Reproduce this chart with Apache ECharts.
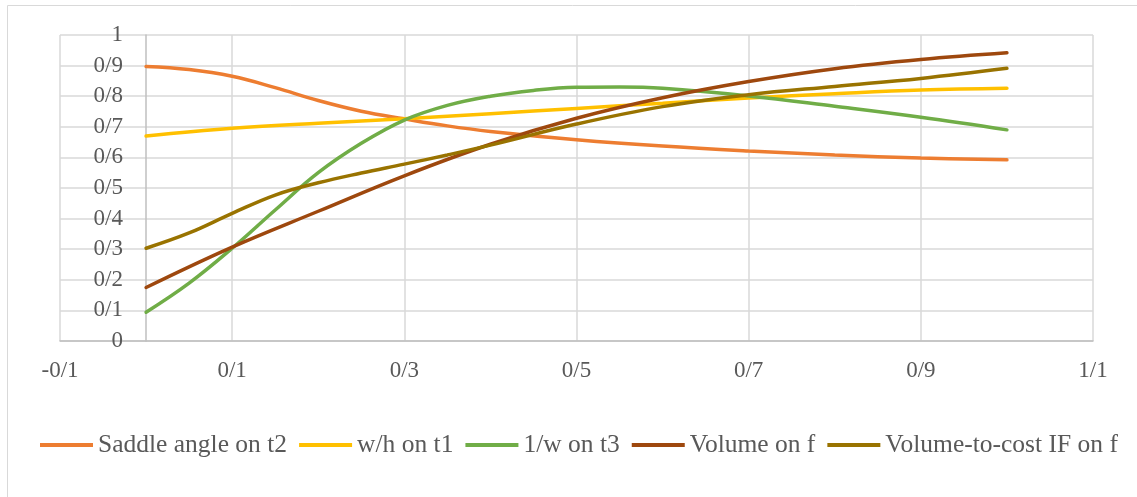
<!DOCTYPE html>
<html>
<head>
<meta charset="utf-8">
<script src="https://cdn.jsdelivr.net/npm/echarts@6/dist/echarts.min.js"></script>
<style>
html,body{margin:0;padding:0;background:#fff;}
#chart{width:1137px;height:497px;}
</style>
</head>
<body>
<div id="chart"></div>
<script>
// ---- data ----
const seriesNames = ['Saddle angle on t2', 'w/h on t1', '1/w on t3', 'Volume on f', 'Volume-to-cost IF on f'];
const saddleX     = [0, 0.05, 0.1, 0.15, 0.2, 0.25, 0.3, 0.35, 0.4, 0.5, 0.6, 0.7, 0.8, 0.9, 1.0];
const saddleAngle = [0.897, 0.887, 0.865, 0.828, 0.786, 0.751, 0.726, 0.703, 0.685, 0.658, 0.637, 0.621, 0.608, 0.598, 0.592];
const whX         = [0, 0.1, 0.2, 0.3, 0.4, 0.5, 0.6, 0.7, 0.8, 0.9, 1.0];
const whOnT1      = [0.670, 0.695, 0.712, 0.726, 0.743, 0.760, 0.777, 0.794, 0.808, 0.820, 0.826];
const oneOverWX   = [0, 0.05, 0.1, 0.15, 0.2, 0.25, 0.3, 0.35, 0.4, 0.45, 0.5, 0.55, 0.6, 0.7, 0.8, 0.9, 1.0];
const oneOverW    = [0.094, 0.189, 0.303, 0.428, 0.550, 0.646, 0.722, 0.770, 0.800, 0.819, 0.829, 0.830, 0.826, 0.801, 0.767, 0.731, 0.690];
const volumeX     = [0, 0.1, 0.2, 0.3, 0.4, 0.5, 0.6, 0.7, 0.8, 0.9, 1.0];
const volume      = [0.175, 0.307, 0.424, 0.540, 0.643, 0.728, 0.795, 0.848, 0.890, 0.920, 0.942];
const volToCostX  = [0, 0.05, 0.1, 0.15, 0.2, 0.25, 0.3, 0.35, 0.4, 0.5, 0.6, 0.7, 0.8, 0.9, 1.0];
const volToCost   = [0.303, 0.353, 0.417, 0.477, 0.517, 0.549, 0.578, 0.608, 0.640, 0.709, 0.766, 0.805, 0.832, 0.858, 0.891];
const xTicks = [-0.1, 0.1, 0.3, 0.5, 0.7, 0.9, 1.1];
const xTickLabels = ['-0/1', '0/1', '0/3', '0/5', '0/7', '0/9', '1/1'];
const yTicks = [0, 0.1, 0.2, 0.3, 0.4, 0.5, 0.6, 0.7, 0.8, 0.9, 1];
const yTickLabels = ['0', '0/1', '0/2', '0/3', '0/4', '0/5', '0/6', '0/7', '0/8', '0/9', '1'];

const colors = ['#ED7D31', '#FFC000', '#70AD47', '#9E480E', '#997300'];
const allX = [saddleX, whX, oneOverWX, volumeX, volToCostX];
const allValues = [saddleAngle, whOnT1, oneOverW, volume, volToCost];

function lookup(ticks, labels, v) {
  for (let i = 0; i < ticks.length; i++) {
    if (Math.abs(ticks[i] - v) < 1e-6) return labels[i];
  }
  return '';
}

const font = '"Liberation Serif", "Times New Roman", serif';
const chart = echarts.init(document.getElementById('chart'));
chart.setOption({
  animation: false,
  color: colors,
  graphic: [{
    type: 'rect',
    shape: { x: 7.5, y: 5.5, width: 1300, height: 700 },
    style: { fill: 'none', stroke: '#d9d9d9', lineWidth: 1 },
    silent: true
  }],
  grid: { left: 60, right: 44, top: 35, bottom: 156 },
  xAxis: {
    type: 'value', min: -0.1, max: 1.1, interval: 0.2,
    axisLine: { show: true, onZero: false, lineStyle: { color: '#bfbfbf', width: 1.5 } },
    axisTick: { show: false },
    splitLine: { show: true, lineStyle: { color: '#d9d9d9', width: 1.5 } },
    axisLabel: {
      margin: 18, color: '#595959', fontFamily: font, fontSize: 23,
      showMinLabel: true, showMaxLabel: true,
      formatter: v => lookup(xTicks, xTickLabels, v)
    }
  },
  yAxis: {
    type: 'value', min: 0, max: 1, interval: 0.1,
    offset: -86,
    axisLine: { show: true, onZero: false, lineStyle: { color: '#bfbfbf', width: 1.5 } },
    axisTick: { show: false },
    splitLine: { show: true, lineStyle: { color: '#d9d9d9', width: 1.5 } },
    axisLabel: {
      margin: 23, color: '#595959', fontFamily: font, fontSize: 23,
      formatter: v => lookup(yTicks, yTickLabels, v)
    }
  },
  legend: {
    left: 35, top: 427,
    icon: 'rect', itemWidth: 53, itemHeight: 4, itemGap: 12,
    textStyle: { color: '#595959', fontFamily: font, fontSize: 25.5 },
    data: seriesNames
  },
  series: seriesNames.map((name, i) => ({
    name: name,
    type: 'line',
    smooth: 0.4,
    symbol: 'none',
    lineStyle: { width: 3.5, color: colors[i], cap: 'round' },
    itemStyle: { color: colors[i] },
    data: allX[i].map((x, j) => [x, allValues[i][j]])
  }))
});
</script>
</body>
</html>
